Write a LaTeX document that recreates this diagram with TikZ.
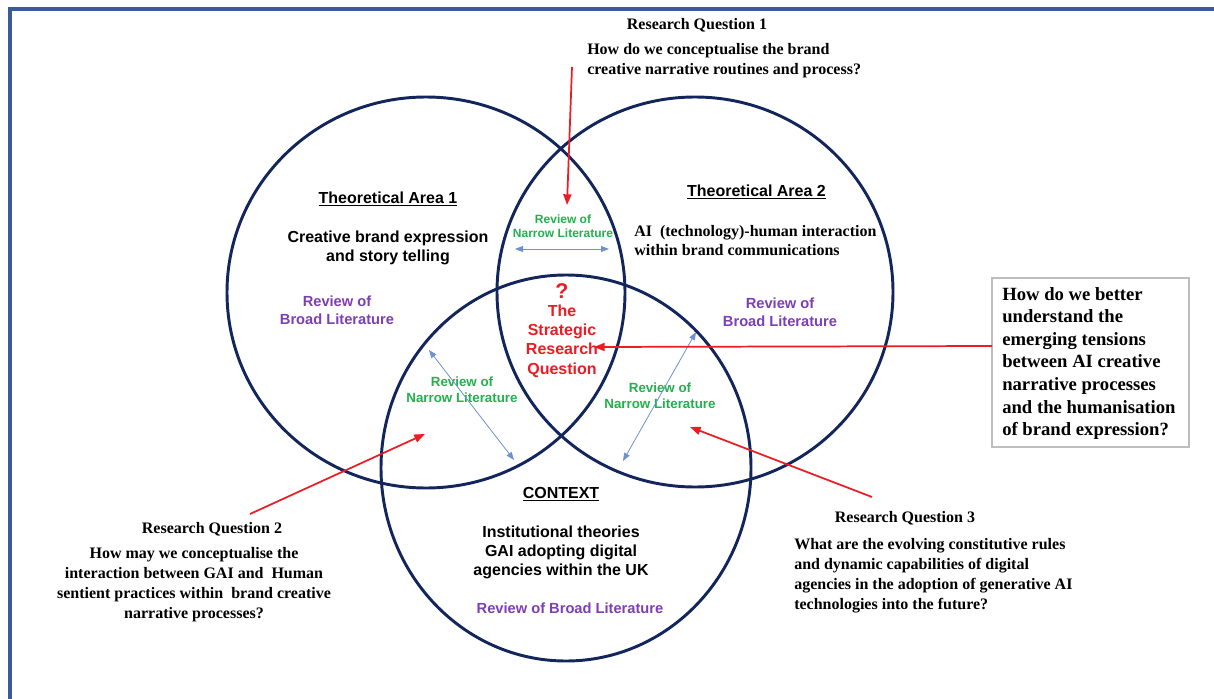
\documentclass[tikz,border=0pt]{standalone}
\usepackage{fontspec}
\setmainfont{Liberation Serif}
\setsansfont{Liberation Sans}
\usetikzlibrary{arrows.meta}
\definecolor{framec}{RGB}{59,90,153}
\definecolor{navyc}{RGB}{18,38,92}
\definecolor{redc}{RGB}{235,28,36}
\definecolor{greenc}{RGB}{34,177,76}
\definecolor{purplec}{RGB}{126,62,180}
\definecolor{bluec}{RGB}{110,145,210}
\definecolor{boxgray}{RGB}{190,190,190}
\begin{document}
\begin{tikzpicture}[x=0.75pt,y=-0.75pt,
  circ/.style={draw=navyc, line width=2.2pt},
  serifbody/.style={font=\bfseries\fontsize{12}{15}\selectfont, inner sep=0pt},
  sanst/.style={font=\sffamily\bfseries\fontsize{12}{14.3}\selectfont, inner sep=0pt, align=center},
  broadlit/.style={font=\sffamily\bfseries\fontsize{11}{13.5}\selectfont, text=purplec, inner sep=0pt, align=center},
  narrowlit/.style={font=\sffamily\bfseries\fontsize{10}{12}\selectfont, text=greenc, inner sep=0pt, align=center},
  redtxt/.style={font=\sffamily\bfseries\fontsize{12}{14.5}\selectfont, text=redc, inner sep=0pt, align=center},
  redarrow/.style={draw=redc, line width=1.3pt, -{Triangle[length=8pt,width=6pt]}},
  bluearrow/.style={draw=bluec, line width=0.6pt, {Triangle[length=6pt,width=4.5pt]}-{Triangle[length=6pt,width=4.5pt]}}
]
\useasboundingbox (0,0) rectangle (1214,699);
\fill[white] (0,0) rectangle (1214,699);
% frame
\draw[framec, line width=3pt] (10,705) -- (10,8.7) -- (1220,8.7);

% circles
\draw[circ] (426,292.5) ellipse [x radius=199*0.75pt, y radius=195.5*0.75pt];
\draw[circ] (695,292) ellipse [x radius=198*0.75pt, y radius=195*0.75pt];
\draw[circ] (566,468) ellipse [x radius=185*0.75pt, y radius=193*0.75pt];

% Research question 1
\node[serifbody] (rq1t) at (697,25) {Research Question 1};
\node[serifbody, anchor=west, align=left] (rq1) at (587,61) {How do we conceptualise the brand\\creative narrative routines and process?};

% Theoretical area 1
\node[sanst] (ta1) at (388,199) {\underline{Theoretical Area 1}};
\node[sanst] (ta1b) at (388,247.5) {Creative brand expression\\and story telling};
\node[broadlit] (bl1) at (337,310.5) {Review of\\Broad Literature};

% Theoretical area 2
\node[sanst] (ta2) at (756.5,192) {\underline{Theoretical Area 2}};
\node[serifbody, anchor=west, align=left, font=\bfseries\fontsize{12}{14.3}\selectfont] (ta2b) at (634,240.5) {AI\ \ (technology)-human interaction\\within brand communications};
\node[broadlit] (bl2) at (780,312) {Review of\\Broad Literature};

% narrow literature
\node[narrowlit, font=\sffamily\bfseries\fontsize{9}{10.5}\selectfont] (nl1) at (563,226) {Review of\\Narrow Literature};
\node[narrowlit] (nl2) at (462,390) {Review of\\Narrow Literature};
\node[narrowlit] (nl3) at (660,396) {Review of\\Narrow Literature};

% strategic question
\node[font=\sffamily\bfseries\fontsize{16}{18}\selectfont, text=redc, inner sep=0pt] (qm) at (562,291) {?};
\node[redtxt] (srq) at (562,341) {The\\Strategic\\Research\\Question};

% context
\node[sanst] (ctx) at (561,494) {\underline{CONTEXT}};
\node[sanst] (ctxb) at (561,552) {Institutional theories\\GAI adopting digital\\agencies within the UK};
\node[broadlit] (bl3) at (570,608) {Review of Broad Literature};

% right box
\node[draw=boxgray, line width=0.8pt, minimum width=197*0.75pt, minimum height=169*0.75pt, inner sep=0pt] (box) at (1090.5,362.5) {};
\node[font=\bfseries\fontsize{14}{16.9}\selectfont, inner sep=0pt, anchor=west, align=left] (boxt) at (1002,363.5) {How do we better\\understand the\\emerging tensions\\between AI creative\\narrative processes\\and the humanisation\\of brand expression?};

% research question 2
\node[serifbody] (rq2t) at (212,529) {Research Question 2};
\node[serifbody, align=center] (rq2) at (194,584.5) {How may we conceptualise the\\interaction between GAI and\ \ Human\\sentient practices within\ \ brand creative\\narrative processes?};

% research question 3
\node[serifbody] (rq3t) at (905,518) {Research Question 3};
\node[serifbody, anchor=west, align=left] (rq3) at (794,575.8) {What are the evolving constitutive rules\\and dynamic capabilities of digital\\agencies in the adoption of generative AI\\technologies into the future?};

% coordinates
\coordinate (a1s) at (572,67);
\coordinate (a1e) at (567,205);
\coordinate (abs) at (992,346);
\coordinate (abe) at (594,347);
\coordinate (a2s) at (250,514);
\coordinate (a2e) at (425,434);
\coordinate (a3s) at (872,497);
\coordinate (a3e) at (690,427);
\coordinate (b1a) at (515,249);
\coordinate (b1b) at (609,249);
\coordinate (b2a) at (429,350);
\coordinate (b2b) at (514,460);
\coordinate (b3a) at (696,332);
\coordinate (b3b) at (623,461);

% arrows
\draw[bluearrow] (b1a) -- (b1b);
\draw[bluearrow] (b2a) -- (b2b);
\draw[bluearrow] (b3a) -- (b3b);
\draw[redarrow] (a1s) -- (a1e);
\draw[redarrow] (abs) -- (abe);
\draw[redarrow] (a2s) -- (a2e);
\draw[redarrow] (a3s) -- (a3e);
\end{tikzpicture}
\end{document}
